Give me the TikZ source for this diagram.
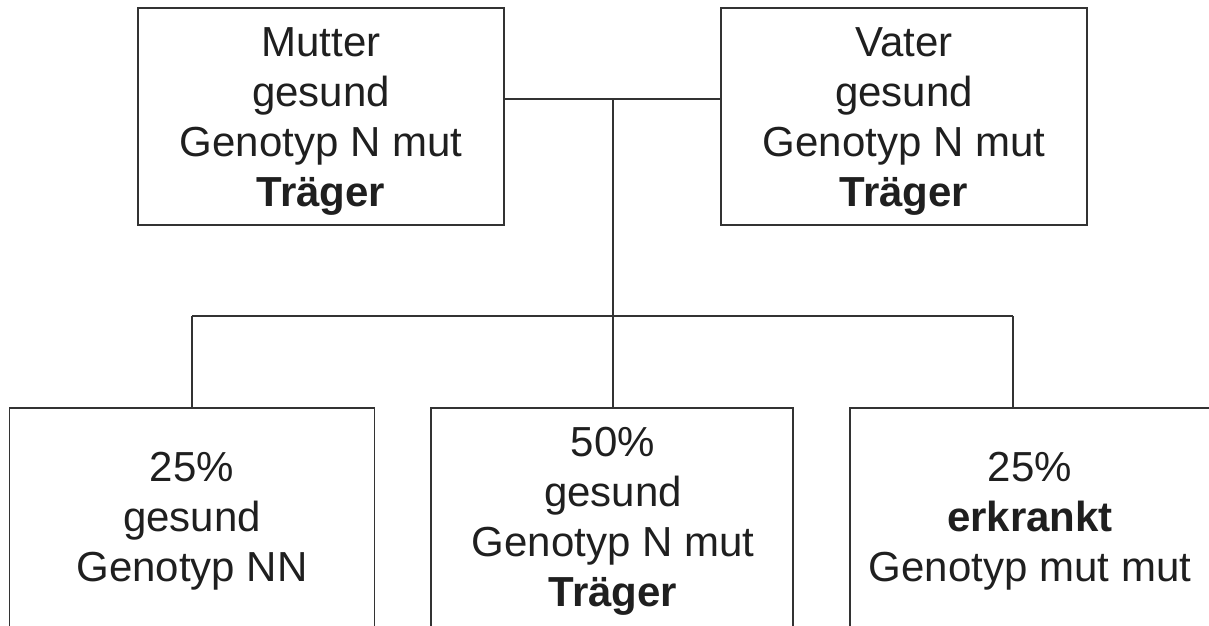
\documentclass[tikz,border=0pt]{standalone}
\usepackage{fontspec}
\setmainfont{Liberation Sans}
\begin{document}
\begin{tikzpicture}[x=1pt,y=-1pt,
  boxstyle/.style={draw=black!80, line width=1.6pt, rectangle, inner sep=0pt},
  txt/.style={align=center, inner sep=0pt, anchor=north, text=black!88,
    font=\fontsize{42}{50}\selectfont},
  conn/.style={draw=black!80, line width=1.6pt}]
\useasboundingbox (0,0) rectangle (1209,625);
% parents
\node[boxstyle, minimum width=366pt, minimum height=217pt] (m) at (321,116.5) {};
\node[boxstyle, minimum width=366pt, minimum height=217pt] (v) at (904,116.5) {};
\node[txt] (mt) at (321,27) {Mutter\\gesund\\Genotyp N mut\\\textbf{Träger}};
\node[txt] (vt) at (904,27) {Vater\\gesund\\Genotyp N mut\\\textbf{Träger}};
% children
\node[boxstyle, minimum width=365pt, minimum height=228pt] (c1) at (192,522) {};
\node[boxstyle, minimum width=362pt, minimum height=228pt] (c2) at (612,522) {};
\node[boxstyle, minimum width=365pt, minimum height=228pt] (c3) at (1032.5,522) {};
\node[txt] (c1t) at (192,452) {25\%\\gesund\\Genotyp NN};
\node[txt] (c2t) at (613,427) {50\%\\gesund\\Genotyp N mut\\\textbf{Träger}};
\node[txt] (c3t) at (1030,452) {25\%\\\textbf{erkrankt}\\Genotyp mut mut};
% connectors
\coordinate (j) at (613,99);
\coordinate (k) at (613,316);
\coordinate (k1) at (192,316);
\coordinate (k3) at (1013,316);
\draw[conn] (m.east |- j) -- (v.west |- j);
\draw[conn] (j) -- (k);
\draw[conn] (k1) -- (k3);
\draw[conn] (k1) -- (c1.north -| k1);
\draw[conn] (k) -- (c2.north -| k);
\draw[conn] (k3) -- (c3.north -| k3);
\end{tikzpicture}
\end{document}
